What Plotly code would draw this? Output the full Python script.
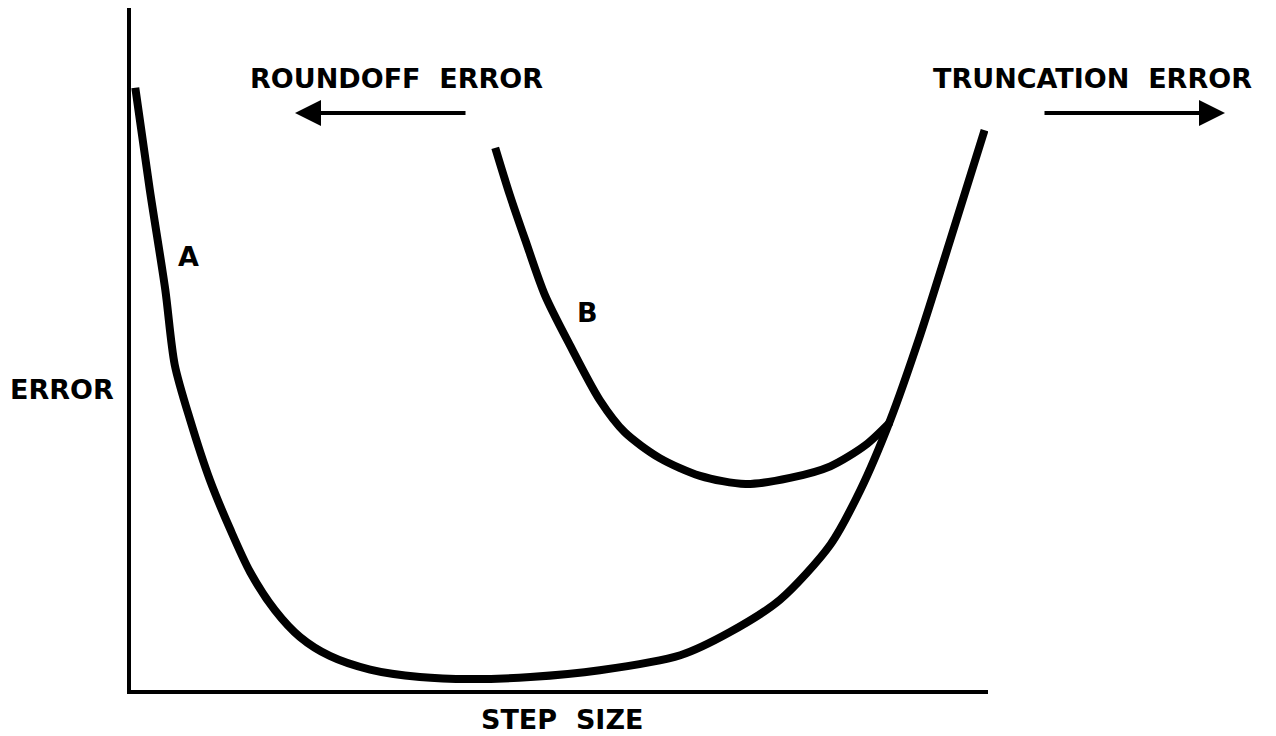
import plotly.graph_objects as go

# Curve A: total error vs step size (data units 0-100)
a_x = [0.5, 2.2, 4.0, 5.1, 6.9, 9.2, 11.6, 13.9, 16.8, 19.7, 23.2, 27.9, 33.7, 39.6,
       46.6, 54.7, 64.1, 69.9, 75.7, 81.6, 85.1, 88.6, 92.1, 95.6, 99.6]
a_y = [88.3, 73.3, 58.7, 47.7, 39.6, 30.8, 23.5, 17.3, 11.7, 7.8, 5.0, 3.0, 1.9, 1.6,
       1.9, 2.9, 5.1, 8.5, 13.2, 21.3, 29.3, 39.6, 52.1, 66.0, 82.1]

# Curve B
b_x = [42.5, 44.2, 46.0, 48.3, 51.2, 54.7, 57.6, 61.7, 66.4, 71.7, 76.9, 81.6, 85.7, 88.6]
b_y = [79.5, 72.6, 66.0, 57.9, 50.6, 42.5, 37.8, 34.0, 31.4, 30.2, 31.1, 32.8, 35.9, 39.3]

FONT = dict(family="DejaVu Sans", size=27, color="black", weight="bold")

fig = go.Figure()
for xs, ys in ((a_x, a_y), (b_x, b_y)):
    fig.add_trace(go.Scatter(x=xs, y=ys, mode="lines",
                             line=dict(color="black", width=8, shape="spline", smoothing=0.8),
                             hoverinfo="skip"))

# page has an 8px body margin; work in page pixels and shift
OFF = 8
W, H = 1276 - OFF, 736 - OFF
PL, PR, PT, PB = 131, 988, 8, 690          # plot area in page pixels
L, T = PL - OFF, PT - OFF
R, B = W - (PR - OFF), H - (PB - OFF)


def px(xp):
    return (xp - PL) / (PR - PL)


def py(yp):
    return (PB - yp) / (PB - PT)


texts = [
    ("ROUNDOFF\u00a0\u00a0ERROR", 396, 78),
    ("TRUNCATION\u00a0\u00a0ERROR", 1092, 78),
    ("A", 188, 256),
    ("B", 587, 312),
    ("ERROR", 62, 390),
    ("STEP\u00a0\u00a0SIZE", 562, 719),
]
for t, xx, yy in texts:
    fig.add_annotation(text=t, xref="paper", yref="paper", x=px(xx), y=py(yy),
                       showarrow=False, font=FONT, xanchor="center", yanchor="middle")

# arrows
fig.add_annotation(text="", xref="paper", yref="paper", x=px(295), y=py(113),
                   ax=172, ay=0, showarrow=True, arrowhead=2, arrowsize=1.3, arrowwidth=4, arrowcolor="black")
fig.add_annotation(text="", xref="paper", yref="paper", x=px(1225), y=py(113),
                   ax=-182, ay=0, showarrow=True, arrowhead=2, arrowsize=1.3, arrowwidth=4, arrowcolor="black")

fig.update_layout(
    width=W, height=H, margin=dict(l=L, r=R, t=T, b=B, autoexpand=False),
    plot_bgcolor="white", paper_bgcolor="white", showlegend=False,
    xaxis=dict(range=[0, 100], showline=True, linecolor="black", linewidth=4, showgrid=False,
               zeroline=False, showticklabels=False, ticks=""),
    yaxis=dict(range=[0, 100], showline=True, linecolor="black", linewidth=4, showgrid=False,
               zeroline=False, showticklabels=False, ticks=""),
)
fig.write_html("out.html")
